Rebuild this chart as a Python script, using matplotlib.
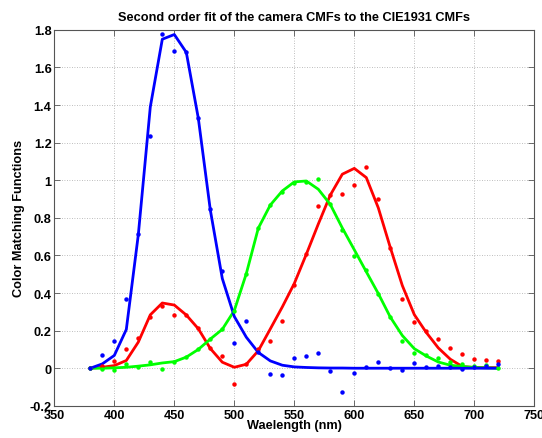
import matplotlib
matplotlib.use("Agg")
import matplotlib.pyplot as plt

# Wavelength samples (nm)
wavelength = list(range(380, 730, 10))

# Fitted camera CMFs (solid curves)
red_fit = [0, 0.005, 0.014, 0.041, 0.139, 0.284, 0.347, 0.336, 0.283, 0.21,
           0.105, 0.032, 0.005, 0.021, 0.093, 0.209, 0.326, 0.451, 0.606, 0.767,
           0.921, 1.032, 1.063, 1.014, 0.853, 0.642, 0.44, 0.285, 0.19, 0.108,
           0.048, 0.009, 0.004, 0.003, 0.003]
green_fit = [0, 0, 0.002, 0.005, 0.011, 0.018, 0.028, 0.035, 0.059, 0.1,
             0.155, 0.207, 0.307, 0.503, 0.745, 0.868, 0.943, 0.991, 0.996, 0.952,
             0.871, 0.746, 0.63, 0.513, 0.397, 0.272, 0.174, 0.104, 0.065, 0.033,
             0.016, 0.009, 0.004, 0.002, 0]
blue_fit = [0, 0.023, 0.068, 0.206, 0.71, 1.39, 1.75, 1.775, 1.68, 1.33,
            0.842, 0.477, 0.275, 0.165, 0.084, 0.039, 0.016, 0.007, 0.004, 0.002,
            0.001, 0.001, 0, 0, 0, 0, 0, 0, 0, 0,
            0, 0, 0, 0, 0]

# CIE1931 CMFs (dots)
red_cie = [0.0, 0.01, 0.037, 0.101, 0.16, 0.272, 0.33, 0.284, 0.284, 0.213,
           0.11, 0.064, -0.083, 0.025, 0.1, 0.147, 0.249, 0.442, 0.606, 0.862,
           0.92, 0.928, 0.975, 1.068, 0.898, 0.642, 0.367, 0.245, 0.2, 0.155,
           0.109, 0.073, 0.048, 0.043, 0.036]
green_cie = [0, -0.004, -0.009, 0.023, 0.005, 0.032, -0.004, 0.032, 0.059, 0.103,
             0.157, 0.206, 0.304, 0.5, 0.746, 0.868, 0.937, 0.984, 0.991, 1.005,
             0.871, 0.737, 0.597, 0.522, 0.394, 0.271, 0.146, 0.082, 0.071, 0.053,
             0.034, 0.021, 0.012, 0.016, 0.0]
blue_cie = [0, 0.071, 0.147, 0.368, 0.712, 1.233, 1.779, 1.685, 1.68, 1.33,
            0.845, 0.516, 0.133, 0.25, 0.085, -0.032, -0.036, 0.057, 0.063, 0.079,
            -0.014, -0.128, -0.027, 0.007, 0.034, 0.0, -0.009, 0.027, 0.004, 0.011,
            0.004, -0.005, 0.009, 0.012, 0.025]

x_ticks = [350, 400, 450, 500, 550, 600, 650, 700, 750]
y_ticks = [-0.2, 0, 0.2, 0.4, 0.6, 0.8, 1, 1.2, 1.4, 1.6, 1.8]
y_tick_labels = ["-0.2", "0", "0.2", "0.4", "0.6", "0.8", "1", "1.2", "1.4", "1.6", "1.8"]

plt.rcParams["font.family"] = ["Liberation Sans", "DejaVu Sans"]
plt.rcParams["font.weight"] = "bold"

fig = plt.figure(figsize=(5.42, 4.39), dpi=100)
ax = fig.add_axes([0.1002, 0.0733, 0.8856, 0.8565])

for fit, col in ((red_fit, "#ff0000"), (green_fit, "#00ff00"), (blue_fit, "#0000ff")):
    ax.plot(wavelength, fit, color=col, linewidth=2.0, zorder=3)
for cie, col in ((red_cie, "#ff0000"), (green_cie, "#00ff00"), (blue_cie, "#0000ff")):
    ax.plot(wavelength, cie, linestyle="none", marker="o", markersize=3.2,
            color=col, markeredgewidth=0, zorder=4)

ax.set_xlim(350, 750)
ax.set_ylim(-0.2, 1.8)
ax.set_xticks(x_ticks)
ax.set_xticklabels([str(t) for t in x_ticks])
ax.set_yticks(y_ticks)
ax.set_yticklabels(y_tick_labels)

ax.grid(True, linestyle=(0, (1, 2)), color="#a8a8a8", linewidth=0.6)
ax.set_axisbelow(True)
ax.tick_params(direction="in", top=True, right=True, length=4, width=0.6,
               color="#555555", labelsize=9.2, pad=2)
for lbl in ax.get_xticklabels() + ax.get_yticklabels():
    lbl.set_fontweight("bold")
for s in ax.spines.values():
    s.set_color("#555555")
    s.set_linewidth(0.8)

ax.set_title("Second order fit of the camera CMFs to the CIE1931 CMFs",
             fontsize=9.2, fontweight="bold", pad=7)
ax.set_xlabel("Waelength (nm)", fontsize=9.2, fontweight="bold", labelpad=-1)
ax.set_ylabel("Color Matching Functions", fontsize=9.2, fontweight="bold", labelpad=3)

fig.savefig("out.png", dpi=100, facecolor="white")
